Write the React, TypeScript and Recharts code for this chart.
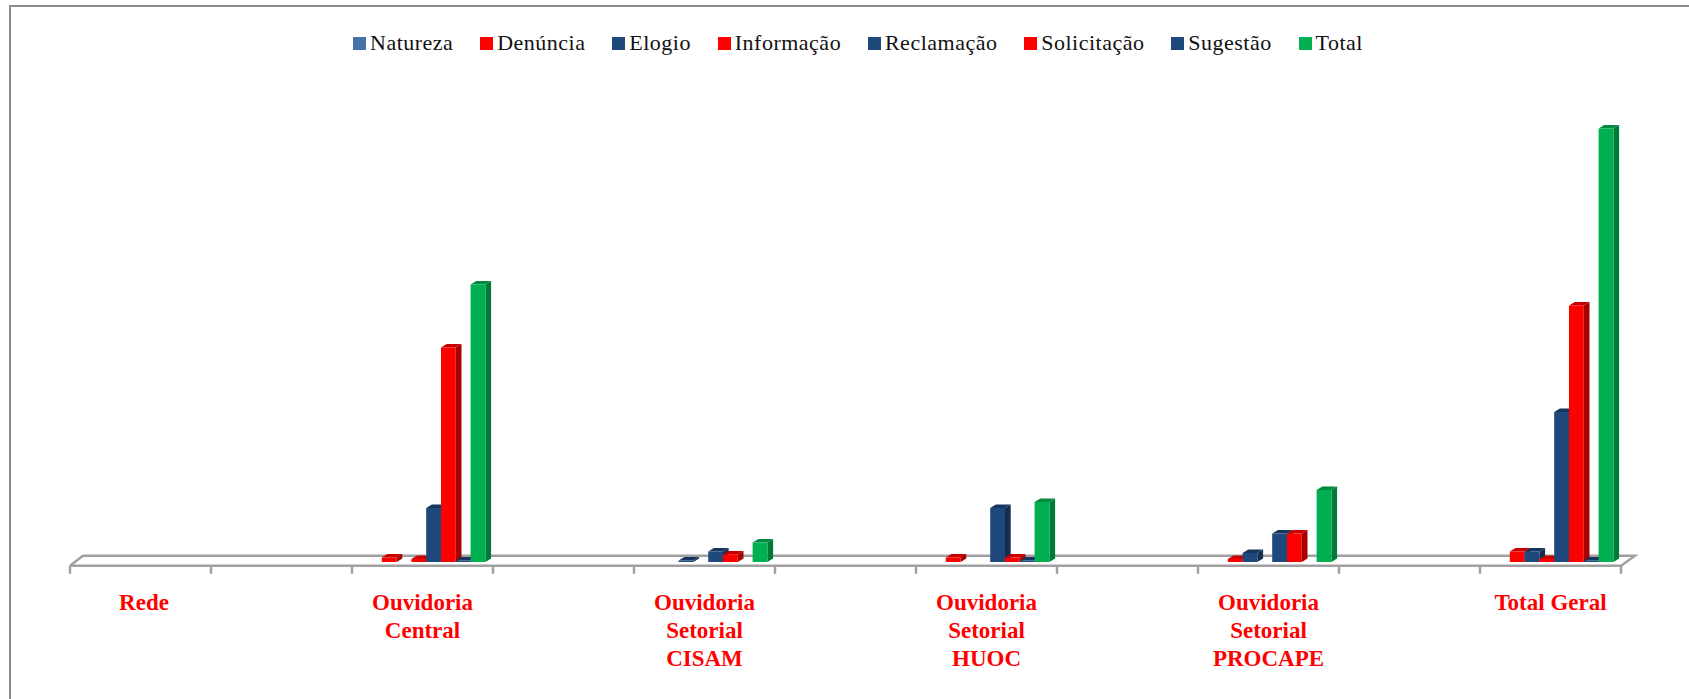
import React from "react";
import { BarChart, Bar, XAxis, YAxis, Legend, usePlotArea } from "recharts";

const categories = ["Rede", "", "Ouvidoria\nCentral", "", "Ouvidoria\nSetorial\nCISAM", "", "Ouvidoria\nSetorial\nHUOC", "", "Ouvidoria\nSetorial\nPROCAPE", "", "Total Geral"];
const natureza = [null, null, null, null, null, null, null, null, null, null, null];
const denuncia = [null, null, 3, null, null, null, 3, null, 2, null, 7];
const elogio = [null, null, null, null, 1, null, null, null, 6, null, 7];
const informacao = [null, null, 2, null, null, null, null, null, null, null, 2];
const reclamacao = [null, null, 36, null, 7, null, 36, null, 19, null, 100];
const solicitacao = [null, null, 143, null, 5, null, 3, null, 19, null, 171];
const sugestao = [null, null, 1, null, null, null, 1, null, null, null, 1];
const total = [null, null, 185, null, 13, null, 40, null, 48, null, 289];

const rows = categories.map((name, i) => ({
  name,
  Natureza: natureza[i],
  "Denúncia": denuncia[i],
  Elogio: elogio[i],
  "Informação": informacao[i],
  "Reclamação": reclamacao[i],
  "Solicitação": solicitacao[i],
  "Sugestão": sugestao[i],
  Total: total[i],
}));

const BLUE = "#1f497d";
const RED = "#ff0000";
const GREEN = "#00b050";
const series = [
  { key: "Natureza", color: "#4572a7", top: "#345a86", side: "#2c4c72" },
  { key: "Denúncia", color: RED, top: "#c80000", side: "#a60000" },
  { key: "Elogio", color: BLUE, top: "#17365f", side: "#142e50" },
  { key: "Informação", color: RED, top: "#c80000", side: "#a60000" },
  { key: "Reclamação", color: BLUE, top: "#17365f", side: "#142e50" },
  { key: "Solicitação", color: RED, top: "#c80000", side: "#a60000" },
  { key: "Sugestão", color: BLUE, top: "#17365f", side: "#142e50" },
  { key: "Total", color: GREEN, top: "#008a3e", side: "#007a37" },
];
const legendOrder = series.map((s) => s.key);

const FONT = "'Liberation Serif', serif";
const DX = 5.7;
const DY = 3.6;
const SHIFT_X = 4;

function Bar3D(props: any) {
  const { x, y, width, height, fill, topFill, sideFill } = props;
  if (height == null || width == null || !isFinite(y)) return null;
  const l = x + SHIFT_X;
  const r = l + width;
  const b = y + height;
  return (
    <g>
      <polygon points={`${l},${y} ${l + DX},${y - DY} ${r + DX},${y - DY} ${r},${y}`} fill={topFill} />
      <polygon points={`${r},${y} ${r + DX},${y - DY} ${r + DX},${b - DY} ${r},${b}`} fill={sideFill} />
      <rect x={l} y={y} width={width} height={height} fill={fill} />
    </g>
  );
}

function Floor() {
  const plot = usePlotArea();
  if (!plot) return null;
  const left = plot.x;
  const right = plot.x + plot.width;
  const front = plot.y + plot.height + 3.8;
  const back = front - 10;
  const step = plot.width / categories.length;
  const stroke = "#a0a0a0";
  return (
    <g>
      <polyline
        points={`${left},${front} ${left + 13},${back} ${right + 14},${back} ${right},${front} ${left},${front}`}
        fill="#fff"
        stroke={stroke}
        strokeWidth={2.4}
      />
      {[...categories, ""].map((_, i) => (
        <line key={i} x1={left + i * step} x2={left + i * step} y1={front} y2={front + 8} stroke={stroke} strokeWidth={2.4} />
      ))}
    </g>
  );
}

function CategoryTick(props: any) {
  const { x, payload, index } = props;
  const lines = String(payload.value).split("\n");
  const cx = index === 0 ? x + 3.5 : x;
  return (
    <text textAnchor="middle" fontFamily={FONT} fontWeight="bold" fontSize={23} fill={RED}>
      {lines.map((t: string, i: number) => (
        <tspan key={i} x={cx} y={610 + i * 28}>
          {t}
        </tspan>
      ))}
    </text>
  );
}

function LegendRow(props: any) {
  const items = [...(props.payload || [])].sort((a: any, b: any) => legendOrder.indexOf(a.value) - legendOrder.indexOf(b.value));
  return (
    <div style={{ display: "flex", gap: 26.8, alignItems: "center", whiteSpace: "nowrap" }}>
      {items.map((it: any) => (
        <div key={it.value} style={{ display: "flex", alignItems: "center", gap: 4 }}>
          <span style={{ display: "inline-block", width: 13, height: 13, background: it.color }} />
          <span style={{ fontFamily: FONT, fontSize: 22, letterSpacing: 0.5, color: "#111", lineHeight: "26px" }}>{it.value}</span>
        </div>
      ))}
    </div>
  );
}

export default function App() {
  return (
    <div style={{ position: "absolute", left: 0, top: 0, width: 1689, height: 699, overflow: "hidden", background: "#fff" }}>
      <div style={{ position: "absolute", left: 9, top: 5, width: 1680, height: 694, boxSizing: "border-box", borderTop: "2px solid #8c8c8c", borderLeft: "2px solid #8c8c8c" }} />
      <div style={{ position: "absolute", left: 0, top: 0 }}>
        <BarChart
          width={1689}
          height={699}
          data={rows}
          margin={{ top: 112, right: 68, bottom: 0, left: 70 }}
          barGap={0}
          barSize={14.8}
        >
          <Floor />
          <XAxis dataKey="name" interval={0} axisLine={false} tickLine={false} height={137} tick={<CategoryTick />} />
          <YAxis hide domain={[0, 300]} />
          <Legend
            verticalAlign="middle"
            align="center"
            layout="horizontal"
            wrapperStyle={{ left: 353, top: 30, width: "auto", height: "auto" }}
            content={<LegendRow />}
          />
          {series.map((s) => (
            <Bar
              key={s.key}
              dataKey={s.key}
              fill={s.color}
              isAnimationActive={false}
              shape={(p: any) => <Bar3D {...p} fill={s.color} topFill={s.top} sideFill={s.side} />}
            />
          ))}
        </BarChart>
      </div>
    </div>
  );
}
